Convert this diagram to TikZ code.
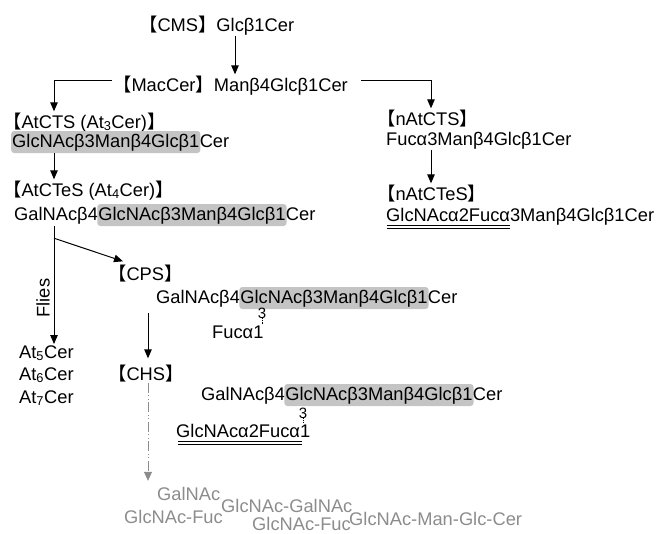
\documentclass[tikz,border=0pt]{standalone}
\usepackage{fontspec}
\setmainfont{Liberation Sans}
\newfontfamily\cjk{Noto Sans CJK JP}
\usetikzlibrary{arrows.meta}
\newcommand{\lbrk}{{\cjk 【}}
\newcommand{\rbrk}{{\cjk 】}}
\definecolor{hlgray}{gray}{0.77}
\definecolor{fadegray}{gray}{0.55}
\tikzset{
  txt/.style={anchor=base west, inner sep=1pt, font=\fontsize{18.3}{22}\selectfont},
  hl/.style={txt, fill=hlgray, rounded corners=3pt, text height=13pt, text depth=3pt, inner ysep=3pt},
  link/.style={anchor=base, inner sep=0pt, font=\fontsize{15}{18}\selectfont},
  faint/.style={txt, text=fadegray, inner sep=0pt, text height=13pt, text depth=0pt},
  arr/.style={-{Triangle[length=9pt,width=7.5pt]}, line width=1pt},
  farr/.style={-{Triangle[length=9pt,width=8pt]}, line width=0.8pt, draw=fadegray,
    dash pattern=on 10pt off 2.5pt on 1pt off 2.5pt on 1pt off 2.5pt},
  uline/.style={line width=0.8pt}
}
\begin{document}
\begin{tikzpicture}[x=1pt,y=-1pt]
    \useasboundingbox (0,0) rectangle (658,533);
    \coordinate (colL) at (54,0);
    \coordinate (colM) at (148,0);
    \coordinate (colT) at (235,0);
    \coordinate (colR) at (431,0);

    % top of the pathway
    \node[txt] (cms) at (138,31) {\lbrk CMS\rbrk Glcβ1Cer};
    \node[txt] (mac) at (112,91) {\lbrk MacCer\rbrk Manβ4Glcβ1Cer};

    % left branch
    \node[txt] (atcts) at (2,128) {\lbrk AtCTS (At\textsubscript{3}Cer)\rbrk};
    \node[hl] (atctsB) at (11,147) {GlcNAcβ3Manβ4Glcβ1};
    \node[txt] (atctsC) at ([xshift=-2pt]atctsB.base east) {Cer};
    \node[txt] (atctes) at (2,196) {\lbrk AtCTeS (At\textsubscript{4}Cer)\rbrk};
    \node[txt] (atctesA) at (13,220) {GalNAcβ4};
    \node[hl] (atctesB) at ([xshift=-2pt]atctesA.base east) {GlcNAcβ3Manβ4Glcβ1};
    \node[txt] (atctesC) at ([xshift=-2pt]atctesB.base east) {Cer};

    \node[txt, rotate=90, anchor=center] (flies) at (43,298) {Flies};
    \node[txt] (at5) at (18,358) {At\textsubscript{5}Cer};
    \node[txt] (at6) at (18,380) {At\textsubscript{6}Cer};
    \node[txt] (at7) at (18,403) {At\textsubscript{7}Cer};

    % CPS
    \node[txt] (cps) at (107,280) {\lbrk CPS\rbrk};
    \node[txt] (cpsA) at (155,303) {GalNAcβ4};
    \node[hl] (cpsB) at ([xshift=-2pt]cpsA.base east) {GlcNAcβ3Manβ4Glcβ1};
    \node[txt] (cpsC) at ([xshift=-2pt]cpsB.base east) {Cer};
    \node[link] (cps3) at (262,318) {3};
    \node[txt] (cpsF) at (211,338) {Fucα1};

    % CHS
    \node[txt] (chs) at (107,380) {\lbrk CHS\rbrk};
    \node[txt] (chsA) at (200,400) {GalNAcβ4};
    \node[hl] (chsB) at ([xshift=-2pt]chsA.base east) {GlcNAcβ3Manβ4Glcβ1};
    \node[txt] (chsC) at ([xshift=-2pt]chsB.base east) {Cer};
    \node[link] (chs3) at (303,418) {3};
    \node[txt] (chsF) at (175,437) {GlcNAcα2Fucα1};
    \draw[uline] (178,441) -- (302,441)
                 (178,444.5) -- (302,444.5);

    % right branch
    \node[txt] (natcts) at (376,125) {\lbrk nAtCTS\rbrk};
    \node[txt] (natctsS) at (385,145) {Fucα3Manβ4Glcβ1Cer};
    \node[txt] (natctes) at (376,200) {\lbrk nAtCTeS\rbrk};
    \node[txt] (natctesS) at (385,221) {GlcNAcα2Fucα3Manβ4Glcβ1Cer};
    \draw[uline] (387,225) -- (510,225)
                 (387,228.5) -- (510,228.5);

    % faded products
    \node[faint] (gA) at (157,500) {GalNAc};
    \node[faint] (gB) at (124,523) {GlcNAc-Fuc};
    \node[faint] (gC) at (221,512) {GlcNAc-GalNAc};
    \node[faint] (gD) at (252,530) {GlcNAc-Fuc};
    \node[faint] (gE) at (349,525) {GlcNAc-Man-Glc-Cer};

    % arrows
    \draw[arr] (colT |- cms.south) -- (colT |- mac.north);
    \draw[arr] ([yshift=5pt]mac.west) -| (colL |- atcts.north);
    \draw[arr] ([xshift=12pt,yshift=5pt]mac.east) -| (colR |- natcts.north);
    \draw[arr] (colL |- atctsB.south) -- (colL |- atctes.north);
    \draw[arr] (colR |- natctsS.south) -- (colR |- natctes.north);
    \draw[arr] (colL |- atctesB.south) -- (colL |- at5.north);
    \draw[arr] ([yshift=-12pt]colL |- atctesB.south) -- ([xshift=16pt,yshift=2pt]cps.north west);
    \draw[arr] ([yshift=-4pt]colM |- cpsB.south) -- ([yshift=5pt]colM |- chs.north);
    \draw[farr] (colM |- chs.south) -- ([yshift=6pt]colM |- gA.north);
    \draw[densely dotted, line width=0.6pt] (cps3.south) -- (cps3.south |- cpsF.north);
    \draw[densely dotted, line width=0.6pt] (chs3.south) -- (chs3.south |- chsF.north);
\end{tikzpicture}
\end{document}
